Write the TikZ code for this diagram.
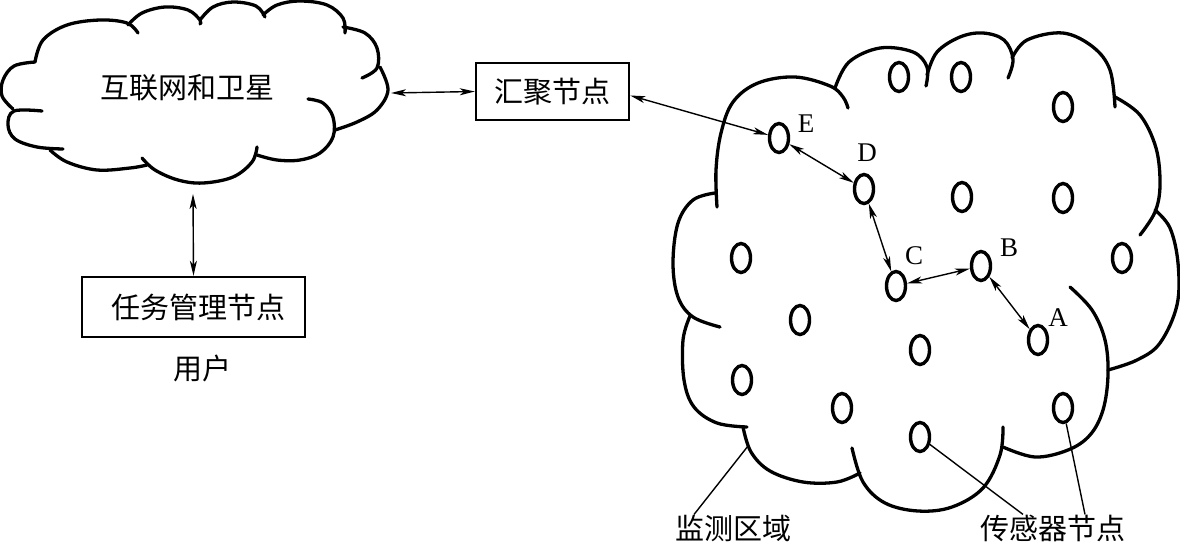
\documentclass[tikz,border=0pt]{standalone}
\usepackage{fontspec}
\setmainfont{Liberation Serif}
\newfontfamily\cjk{Noto Sans CJK SC}
\usetikzlibrary{arrows.meta,shapes.geometric}
\begin{document}
\begin{tikzpicture}[x=1pt,y=-1pt,
  cloudline/.style={line width=3.3pt, line cap=round},
  sensor/.style={draw, ellipse, line width=3.4pt, minimum width=19pt, minimum height=29pt, inner sep=0pt},
  box/.style={draw, line width=2.4pt, inner sep=0pt, font=\cjk\fontsize{29}{32}\selectfont},
  cjklabel/.style={font=\cjk\fontsize{29}{32}\selectfont, inner sep=0pt},
  letter/.style={font=\fontsize{27}{30}\selectfont, inner sep=0pt},
  link/.style={line width=1.4pt, {Stealth[length=15pt,width=7pt,inset=4pt]}-{Stealth[length=15pt,width=7pt,inset=4pt]}},
  leader/.style={line width=1.4pt}]
\useasboundingbox (0,0) rectangle (1180,550);

% ---------- left cloud ----------
\draw[cloudline] plot[smooth,tension=0.6] coordinates {(35,62) (14,66) (3,80) (2,96) (13,109)};
\draw[cloudline] plot[smooth,tension=0.6] coordinates {(42,111) (14,111) (8,125) (15,139) (37,147) (63,149)};
\draw[cloudline] plot[smooth,tension=0.6] coordinates {(50,150) (67,162) (97,170) (130,168) (147,165)};
\draw[cloudline] plot[smooth,tension=0.6] coordinates {(142,158) (155,170) (178,180) (203,183) (233,177) (252,162) (257,147)};
\draw[cloudline] plot[smooth,tension=0.6] coordinates {(257,155) (277,160) (300,160) (320,153) (333,137) (333,117) (323,103) (308,99)};
\draw[cloudline] plot[smooth,tension=0.6] coordinates {(335,130) (357,122) (377,110) (388,90) (380,67)};
\draw[cloudline] plot[smooth,tension=0.6] coordinates {(343,27) (365,33) (377,48) (377,68) (362,78)};
\draw[cloudline] plot[smooth,tension=0.6] coordinates {(263,15) (277,5) (300,1) (327,5) (343,18) (345,33)};
\draw[cloudline] plot[smooth,tension=0.6] coordinates {(200,20) (213,7) (233,2) (256,6) (265,17)};
\draw[cloudline] plot[smooth,tension=0.6] coordinates {(128,25) (142,13) (165,7) (188,10) (200,20) (200,24)};
\draw[cloudline] plot[smooth,tension=0.6] coordinates {(35,62) (43,40) (67,25) (100,20) (127,23) (138,33)};
\node[cjklabel] (inet) at (187,88) {互联网和卫星};
\coordinate (cR) at (391,93);
\coordinate (cB) at (193,194);

% ---------- boxes ----------
\node[box, minimum width=153pt, minimum height=57pt] (hub) at (552.5,91.5) {汇聚节点};
\node[box, minimum width=223pt, minimum height=60pt] (task) at (193.5,307) {\hspace{10pt}任务管理节点};
\node[cjklabel] (user) at (202,368) {用户};

% ---------- right cloud ----------
\draw[cloudline] plot[smooth,tension=0.6] coordinates {(717,207) (716,170) (721,133) (733,102) (758,83) (795,77) (830,86) (843,97) (848,108)};
\draw[cloudline] plot[smooth,tension=0.6] coordinates {(835,88) (849,62) (880,48) (913,52) (927,67) (926,86)};
\draw[cloudline] plot[smooth,tension=0.6] coordinates {(927,75) (937,52) (960,37) (983,33) (1004,40) (1013,59) (1008,78)};
\draw[cloudline] plot[smooth,tension=0.6] coordinates {(1012,58) (1027,40) (1063,33) (1093,47) (1110,70) (1115,107)};
\draw[cloudline] plot[smooth,tension=0.6] coordinates {(1115,97) (1140,115) (1156,148) (1160,185) (1155,212) (1140,235)};
\draw[cloudline] plot[smooth,tension=0.6] coordinates {(1155,210) (1170,228) (1178,263) (1177,305) (1160,343) (1137,360) (1108,370)};
\draw[cloudline] plot[smooth,tension=0.6] coordinates {(1070,287) (1092,310) (1105,340) (1108,375) (1103,410) (1090,435) (1068,450) (1035,457) (1003,447)};
\draw[cloudline] plot[smooth,tension=0.6] coordinates {(1003,427) (1000,455) (983,488) (952,507) (918,511) (885,503) (863,482) (852,448)};
\draw[cloudline] plot[smooth,tension=0.6] coordinates {(860,473) (837,482) (803,482) (770,471) (751,452) (743,427)};
\draw[cloudline] plot[smooth,tension=0.6] coordinates {(747,427) (717,423) (694,407) (684,380) (683,340) (690,316)};
\draw[cloudline] plot[smooth,tension=0.6] coordinates {(715,193) (693,200) (678,223) (673,263) (678,297) (693,317) (720,327)};
\coordinate (edge) at (748,446);

% ---------- sensor nodes ----------
\node[sensor] (s1) at (899,77) {};
\node[sensor] (s2) at (961,77) {};
\node[sensor] (s3) at (1063,107) {};
\node[sensor] (E) at (779,138) {};
\node[sensor] (D) at (864,189) {};
\node[sensor] (s6) at (962,197) {};
\node[sensor] (s7) at (1063,198) {};
\node[sensor] (s8) at (741,258) {};
\node[sensor] (C) at (896,286) {};
\node[sensor] (B) at (981,266) {};
\node[sensor] (s11) at (1122,258) {};
\node[sensor] (s12) at (800,320) {};
\node[sensor] (A) at (1038,340) {};
\node[sensor] (s14) at (920,350) {};
\node[sensor] (s15) at (742,380) {};
\node[sensor] (s16) at (842,408) {};
\node[sensor] (s17) at (1063,408) {};
\node[sensor] (s18) at (920,437) {};

\node[letter] (lE) at (806,124) {E};
\node[letter] (lD) at (867,153) {D};
\node[letter] (lC) at (914,256) {C};
\node[letter] (lB) at (1009,248) {B};
\node[letter] (lA) at (1058,318) {A};

% ---------- links ----------
\draw[link] (cR) -- (hub.west);
\draw[link] (cB) -- (task.north);
\draw[link] ([yshift=-4pt]hub.east) -- (E);
\draw[link] (E) -- (D);
\draw[link] (D) -- (C);
\draw[link] (C) -- (B);
\draw[link] (B) -- (A);

% ---------- labels ----------
\node[cjklabel] (mon) at (733,528) {监测区域};
\node[cjklabel] (sens) at (1053,528) {传感器节点};
\draw[leader] (edge) -- ([xshift=-39pt]mon.north);
\draw[leader] (s18) -- ([xshift=-30pt]sens.north);
\draw[leader] (s17) -- ([xshift=32pt]sens.north);
\end{tikzpicture}
\end{document}
